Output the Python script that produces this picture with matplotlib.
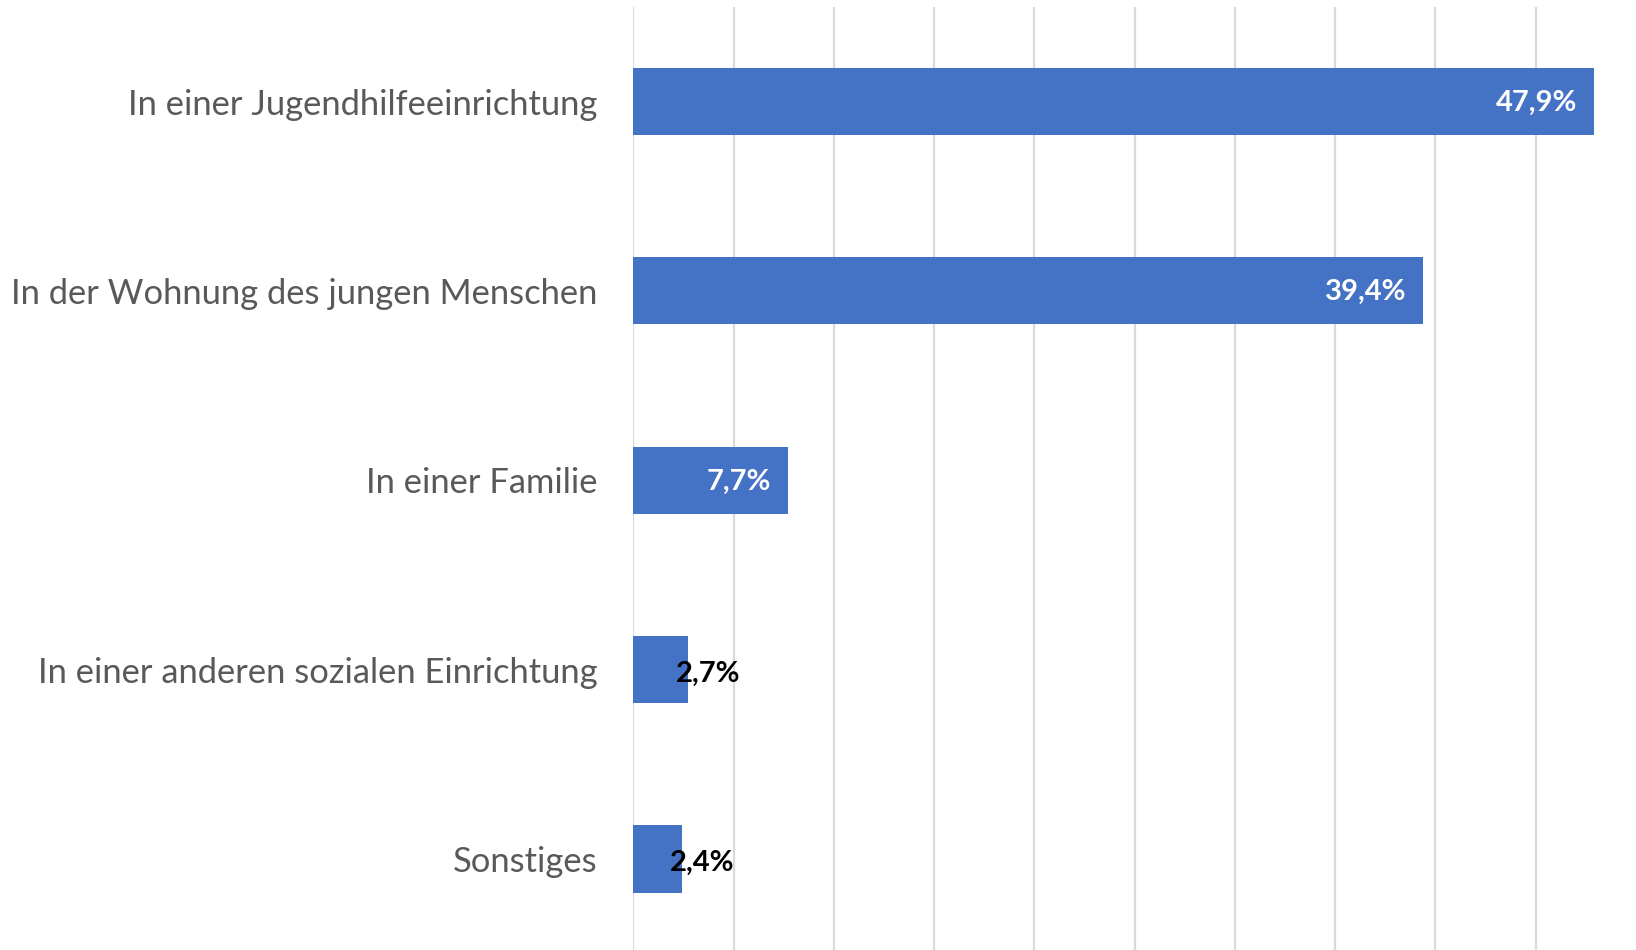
import matplotlib.pyplot as plt

# data
categories = [
    "In einer Jugendhilfeeinrichtung",
    "In der Wohnung des jungen Menschen",
    "In einer Familie",
    "In einer anderen sozialen Einrichtung",
    "Sonstiges",
]
values = [47.9, 39.4, 7.7, 2.7, 2.4]
labels = ["47,9%", "39,4%", "7,7%", "2,7%", "2,4%"]

plt.rcParams['font.family'] = ['Lato', 'DejaVu Sans']

fig = plt.figure(figsize=(16.36, 9.5), dpi=100)
ax = fig.add_axes([0.3872, -0.0039, 0.6128, 0.9967])

y = list(range(len(categories)))
ax.barh(y, values, height=0.354, color='#4472C4', zorder=3)

ax.set_xlim(0, 50)
ax.set_ylim(len(categories) - 0.5, -0.5)
ax.set_xticks(range(0, 50, 5))
ax.set_xticklabels([])
ax.tick_params(axis='x', length=0)
ax.grid(axis='x', color='#D9D9D9', linewidth=1.6, zorder=0)

ax.set_yticks(y)
ax.set_yticklabels(categories, fontsize=24.8, color='#595959')
ax.tick_params(axis='y', length=0, pad=26)

for s in ax.spines.values():
    s.set_visible(False)

# value labels
for yi, v, lab in zip(y, values, labels):
    if v > 5:
        ax.annotate(lab, (v, yi), xytext=(-12, -1), textcoords='offset points',
                    ha='right', va='center', color='white',
                    fontsize=21, fontweight='bold', zorder=4)
    else:
        ax.annotate(lab, (v + 1.0, yi), xytext=(0, -3), textcoords='offset points',
                    ha='center', va='center', color='black',
                    fontsize=21, fontweight='bold', zorder=4)

fig.savefig('out.png', dpi=100)
